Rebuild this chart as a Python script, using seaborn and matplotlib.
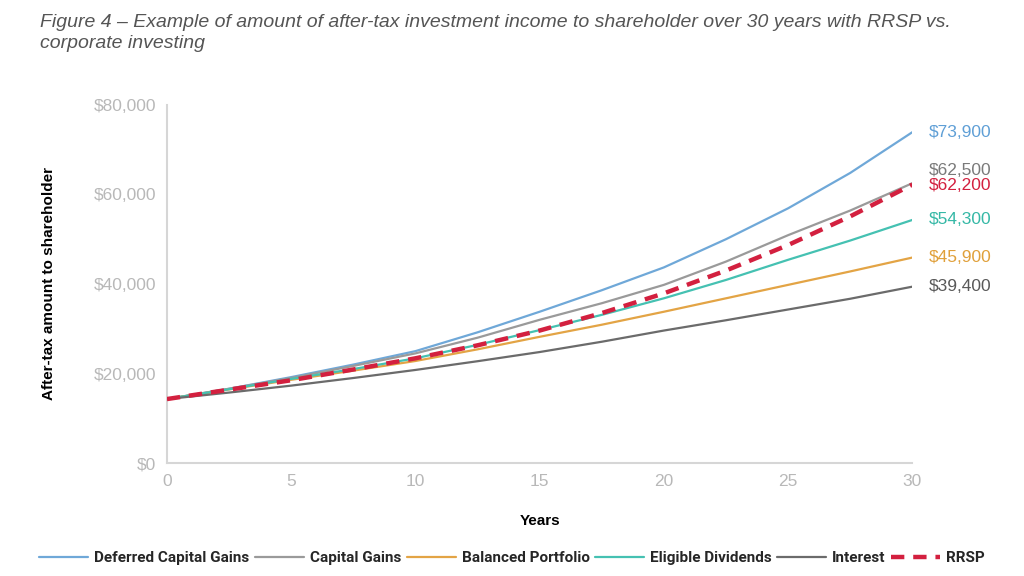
import numpy as np
import pandas as pd
import matplotlib
matplotlib.use("Agg")
import matplotlib.pyplot as plt
import seaborn as sns

# values (after-tax amount, $)
years = [0, 2.5, 5, 7.5, 10, 12.5, 15, 17.5, 20, 22.5, 25, 27.5, 30]
deferred_cg = [14300, 16600, 19200, 22000, 25000, 29200, 33800, 38600, 43700, 50000, 56900, 64800, 73900]
capital_gains = [14300, 16600, 19000, 21700, 24500, 28000, 32000, 35700, 39800, 45000, 50900, 56400, 62500]
balanced = [14300, 16450, 18600, 20650, 22800, 25400, 28200, 30900, 33800, 36800, 39800, 42800, 45900]
eligible_div = [14300, 16500, 18800, 21000, 23400, 26400, 29700, 33100, 36800, 40900, 45400, 49700, 54300]
interest = [14300, 15750, 17300, 19000, 20800, 22750, 24800, 27100, 29600, 31900, 34300, 36700, 39400]
rrsp = [14300, 16400, 18500, 20900, 23400, 26300, 29600, 33500, 37900, 43000, 48700, 55100, 62200]

series_names = ["Deferred Capital Gains", "Capital Gains", "Balanced Portfolio",
                "Eligible Dividends", "Interest", "RRSP"]
end_labels = ["$73,900", "$62,500", "$45,900", "$54,300", "$39,400", "$62,200"]

df = pd.DataFrame({
    "year": years * 6,
    "amount": deferred_cg + capital_gains + balanced + eligible_div + interest + rrsp,
    "series": np.repeat(series_names, len(years)),
})

line_colors = {
    "Deferred Capital Gains": "#6fa8d8",
    "Capital Gains": "#9a9a9a",
    "Balanced Portfolio": "#e3a445",
    "Eligible Dividends": "#45c1b2",
    "Interest": "#6b6b6b",
    "RRSP": "#d3203f",
}
label_colors = {
    "Deferred Capital Gains": "#5f9fd6",
    "Capital Gains": "#7a7a7a",
    "Balanced Portfolio": "#e0a03a",
    "Eligible Dividends": "#35b8a6",
    "Interest": "#595959",
    "RRSP": "#d3203f",
}
label_dy = {"Deferred Capital Gains": 0, "Capital Gains": 9, "Balanced Portfolio": 0,
            "Eligible Dividends": 0, "Interest": 0, "RRSP": -1}

sns.set_theme(style="white")
plt.rcParams["font.family"] = ["Liberation Sans", "DejaVu Sans"]

fig = plt.figure(figsize=(10.24, 5.76), dpi=100)
ax = fig.add_axes([0.163, 0.196, 0.728, 0.622])

for name in series_names:
    sub = df[df["series"] == name]
    if name == "RRSP":
        sns.lineplot(data=sub, x="year", y="amount", ax=ax, color=line_colors[name],
                     lw=3.2, linestyle=(0, (3, 2)), label=name, zorder=5)
    else:
        sns.lineplot(data=sub, x="year", y="amount", ax=ax, color=line_colors[name],
                     lw=1.6, label=name)
    ax.annotate(end_labels[series_names.index(name)], xy=(30, sub["amount"].iloc[-1]),
                xytext=(12, label_dy[name]), textcoords="offset points",
                va="center", ha="left", fontsize=12.5, color=label_colors[name],
                annotation_clip=False)

ax.set_xlim(0, 30)
ax.set_ylim(0, 80000)
ax.set_xticks(range(0, 31, 5))
ax.set_yticks(range(0, 80001, 20000))
ax.set_yticklabels([f"${v:,}" for v in range(0, 80001, 20000)])
ax.tick_params(length=0, labelsize=12.5, labelcolor="#b8b8b8", pad=8)
for s in ["top", "right"]:
    ax.spines[s].set_visible(False)
for s in ["left", "bottom"]:
    ax.spines[s].set_color("#d6d6d6")
    ax.spines[s].set_linewidth(1.5)

ax.set_xlabel("Years", fontsize=11, fontweight="bold", color="black", labelpad=18)
ax.set_ylabel("After-tax amount to shareholder", fontsize=11, fontweight="bold",
              color="black", labelpad=27)

ax.get_legend().remove()
handles, labels = ax.get_legend_handles_labels()
fig.legend(handles, labels, loc="lower center", bbox_to_anchor=(0.5, -0.005), ncol=6,
           frameon=False, handlelength=3.2, handletextpad=0.4, columnspacing=0.35,
           prop={"family": "Roboto", "weight": "bold", "size": 11})

fig.text(0.039, 0.975,
         "Figure 4 \u2013 Example of amount of after-tax investment income to shareholder over 30 years with RRSP vs.\ncorporate investing",
         ha="left", va="top", fontsize=14, style="italic", color="#555555", linespacing=1.3)

fig.savefig("out.png", dpi=100)
